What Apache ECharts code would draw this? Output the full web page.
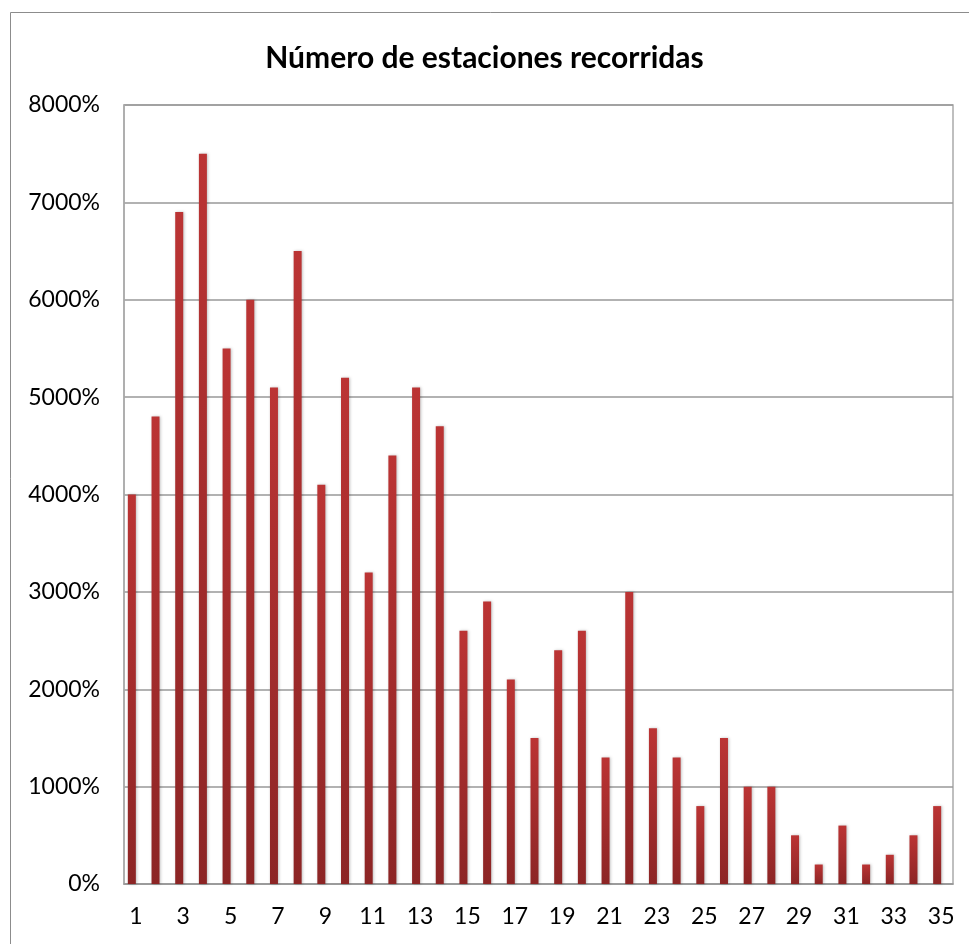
<!DOCTYPE html>
<html>
<head>
<meta charset="utf-8">
<script src="https://cdn.jsdelivr.net/npm/echarts@6/dist/echarts.min.js"></script>
<style>
html,body{margin:0;padding:0;background:#fff;}
#chart{width:969px;height:944px;}
</style>
</head>
<body>
<div id="chart"></div>
<script>
var titleText = 'Número de estaciones recorridas';
var categories = ['1','2','3','4','5','6','7','8','9','10','11','12','13','14','15','16','17','18','19','20','21','22','23','24','25','26','27','28','29','30','31','32','33','34','35'];
var values = [4000,4800,6900,7500,5500,6000,5100,6500,4100,5200,3200,4400,5100,4700,2600,2900,2100,1500,2400,2600,1300,3000,1600,1300,800,1500,1000,1000,500,200,600,200,300,500,800];
var yTicks = [0,1000,2000,3000,4000,5000,6000,7000,8000];

var chart = echarts.init(document.getElementById('chart'));
var font = 'Lato, "Open Sans", sans-serif';
chart.setOption({
  animation: false,
  backgroundColor: '#fff',
  graphic: [{
    type: 'rect',
    shape: {x: 10.5, y: 12.5, width: 980, height: 960},
    style: {fill: 'none', stroke: '#8c8c8c', lineWidth: 1}
  }],
  title: {
    text: titleText,
    left: 'center',
    top: 38,
    textStyle: {fontFamily: font, fontWeight: 'bold', fontSize: 30, color: '#000'}
  },
  grid: {left: 124, right: 16, top: 105, bottom: 60, show: true, borderColor: '#aaa', borderWidth: 1.5, containLabel: false},
  xAxis: {
    type: 'category',
    data: categories,
    axisLine: {lineStyle: {color: '#999', width: 1.5}},
    axisTick: {show: false},
    axisLabel: {interval: 1, margin: 21, fontFamily: font, fontSize: 23, color: '#000'}
  },
  yAxis: {
    type: 'value',
    min: yTicks[0],
    max: yTicks[yTicks.length - 1],
    interval: 1000,
    axisLine: {show: true, lineStyle: {color: '#aaa', width: 1.5}},
    axisTick: {show: false},
    splitLine: {lineStyle: {color: '#999', width: 1.5}},
    axisLabel: {margin: 24, fontFamily: font, fontSize: 23, color: '#000', formatter: function (v) { return v + '%'; }}
  },
  series: [{
    type: 'bar',
    data: values,
    barWidth: 8,
    barGap: '0%',
    itemStyle: {
      color: new echarts.graphic.LinearGradient(0, 0, 0, 1, [
        {offset: 0, color: '#bb3434'},
        {offset: 1, color: '#8c2525'}
      ]),
      shadowColor: 'rgba(0,0,0,0.25)',
      shadowBlur: 3,
      shadowOffsetX: 1
    }
  }, {
    type: 'bar',
    data: [],
    barWidth: 8
  }]
});
</script>
</body>
</html>
